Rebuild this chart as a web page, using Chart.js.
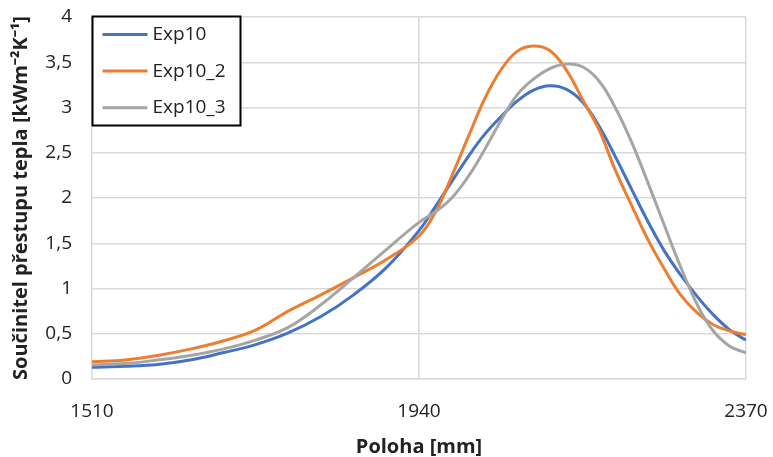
<!DOCTYPE html>
<html>
<head>
<meta charset="utf-8">
<script src="https://cdn.jsdelivr.net/npm/chart.js@4.4.1/dist/chart.umd.min.js"></script>
<style>
    html, body { margin: 0; padding: 0; background: #fff; }
    #wrap { width: 773px; height: 457px; position: relative; }
</style>
</head>
<body>
<div id="wrap"><canvas id="chart"></canvas></div>
<script>
// Data
const positions = [1510, 1553, 1596, 1639, 1682, 1725, 1768, 1811, 1854, 1897, 1940, 1962, 1983, 2005, 2026, 2048,
    2069, 2090, 2112, 2134, 2155, 2177, 2198, 2220, 2241, 2263, 2284, 2306, 2327, 2349, 2370];
const exp10 = [0.13, 0.14, 0.16, 0.21, 0.29, 0.38, 0.51, 0.69, 0.93, 1.23, 1.64, 1.91, 2.18, 2.46, 2.70, 2.90,
    3.07, 3.19, 3.24, 3.20, 3.06, 2.79, 2.46, 2.09, 1.74, 1.41, 1.15, 0.91, 0.71, 0.54, 0.43];
const exp10_2 = [0.19, 0.21, 0.26, 0.33, 0.42, 0.54, 0.75, 0.93, 1.12, 1.32, 1.58, 1.85, 2.24, 2.68, 3.09, 3.42,
    3.62, 3.68, 3.63, 3.41, 3.09, 2.75, 2.31, 1.91, 1.54, 1.21, 0.93, 0.73, 0.60, 0.53, 0.49];
const exp10_3 = [0.155, 0.17, 0.21, 0.26, 0.33, 0.43, 0.57, 0.82, 1.12, 1.43, 1.73, 1.85, 2.00, 2.24, 2.53, 2.86,
    3.14, 3.31, 3.43, 3.48, 3.45, 3.29, 3.00, 2.61, 2.17, 1.69, 1.24, 0.82, 0.53, 0.36, 0.29];
const seriesNames = ['Exp10', 'Exp10_2', 'Exp10_3'];
const xTicks = [1510, 1940, 2370];
const yTicks = [0, 0.5, 1, 1.5, 2, 2.5, 3, 3.5, 4];

const colors = ['#4472C4', '#ED7D31', '#A5A5A5'];
const gridColor = '#d9d9d9';

const toPoints = (vals) => vals.map((v, i) => ({ x: positions[i], y: v }));

// Legend box drawn inside the plot area (top-left), like the original
const boxLegend = {
    id: 'boxLegend',
    afterDraw(chart) {
        const ctx = chart.ctx;
        const area = chart.chartArea;
        const x0 = area.left + 0.5, y0 = area.top - 0.5;
        const w = 148, h = 109;
        ctx.save();
        ctx.fillStyle = '#fff';
        ctx.fillRect(x0, y0, w, h);
        ctx.strokeStyle = '#000';
        ctx.lineWidth = 2;
        ctx.strokeRect(x0, y0, w, h);
        ctx.font = "19px 'Open Sans', sans-serif";
        ctx.textBaseline = 'middle';
        chart.data.datasets.forEach((ds, i) => {
            const y = y0 + 18 + i * 36.6;
            ctx.strokeStyle = ds.borderColor;
            ctx.lineWidth = 3;
            ctx.beginPath();
            ctx.moveTo(x0 + 10, y);
            ctx.lineTo(x0 + 55, y);
            ctx.stroke();
            ctx.fillStyle = '#222';
            ctx.fillText(ds.label, x0 + 60, y);
        });
        ctx.restore();
    }
};

Chart.defaults.font.family = "'Open Sans', sans-serif";
Chart.defaults.color = '#333';

new Chart(document.getElementById('chart'), {
    type: 'line',
    data: {
        datasets: [exp10, exp10_2, exp10_3].map((vals, i) => ({
            label: seriesNames[i],
            data: toPoints(vals),
            borderColor: colors[i],
            backgroundColor: colors[i],
            borderWidth: 3,
            pointRadius: 0,
            tension: 0.4,
            fill: false,
            order: 3 - i
        }))
    },
    options: {
        responsive: true,
        maintainAspectRatio: false,
        animation: false,
        layout: {
            padding: { left: 0, right: 27, top: 17, bottom: 0 }
        },
        plugins: {
            legend: { display: false },
            tooltip: { enabled: false }
        },
        scales: {
            x: {
                type: 'linear',
                min: xTicks[0],
                max: xTicks[xTicks.length - 1],
                afterBuildTicks: (scale) => {
                    scale.ticks = xTicks.map(v => ({ value: v }));
                },
                afterFit: (scale) => {
                    scale.height = 78;
                },
                grid: {
                    color: gridColor,
                    lineWidth: 1.5,
                    drawTicks: true,
                    tickLength: 21,
                    tickColor: 'rgba(0,0,0,0)'
                },
                border: { color: gridColor, width: 1.5 },
                ticks: {
                    padding: 0,
                    maxRotation: 0,
                    font: { size: 19 },
                    color: '#222',
                    callback: (v) => String(v)
                },
                title: {
                    display: true,
                    text: 'Poloha [mm]',
                    font: { size: 20, weight: 'bold' },
                    color: '#222',
                    padding: { top: 0, bottom: -2 }
                }
            },
            y: {
                min: 0,
                max: 4,
                afterBuildTicks: (scale) => {
                    scale.ticks = yTicks.map(v => ({ value: v }));
                },
                afterFit: (scale) => {
                    scale.width = 92;
                },
                grid: {
                    color: gridColor,
                    lineWidth: 1.5,
                    drawTicks: true,
                    tickLength: 20,
                    tickColor: 'rgba(0,0,0,0)'
                },
                border: { display: false },
                ticks: {
                    padding: 0,
                    font: { size: 19 },
                    color: '#222',
                    callback: (v) => v.toString().replace('.', ',')
                },
                title: {
                    display: true,
                    text: 'Součinitel přestupu tepla [kWm⁻²K⁻¹]',
                    font: { size: 20, weight: 'bold' },
                    color: '#222',
                    padding: { top: 9, bottom: 0 }
                }
            }
        }
    },
    plugins: [boxLegend]
});
</script>
</body>
</html>
